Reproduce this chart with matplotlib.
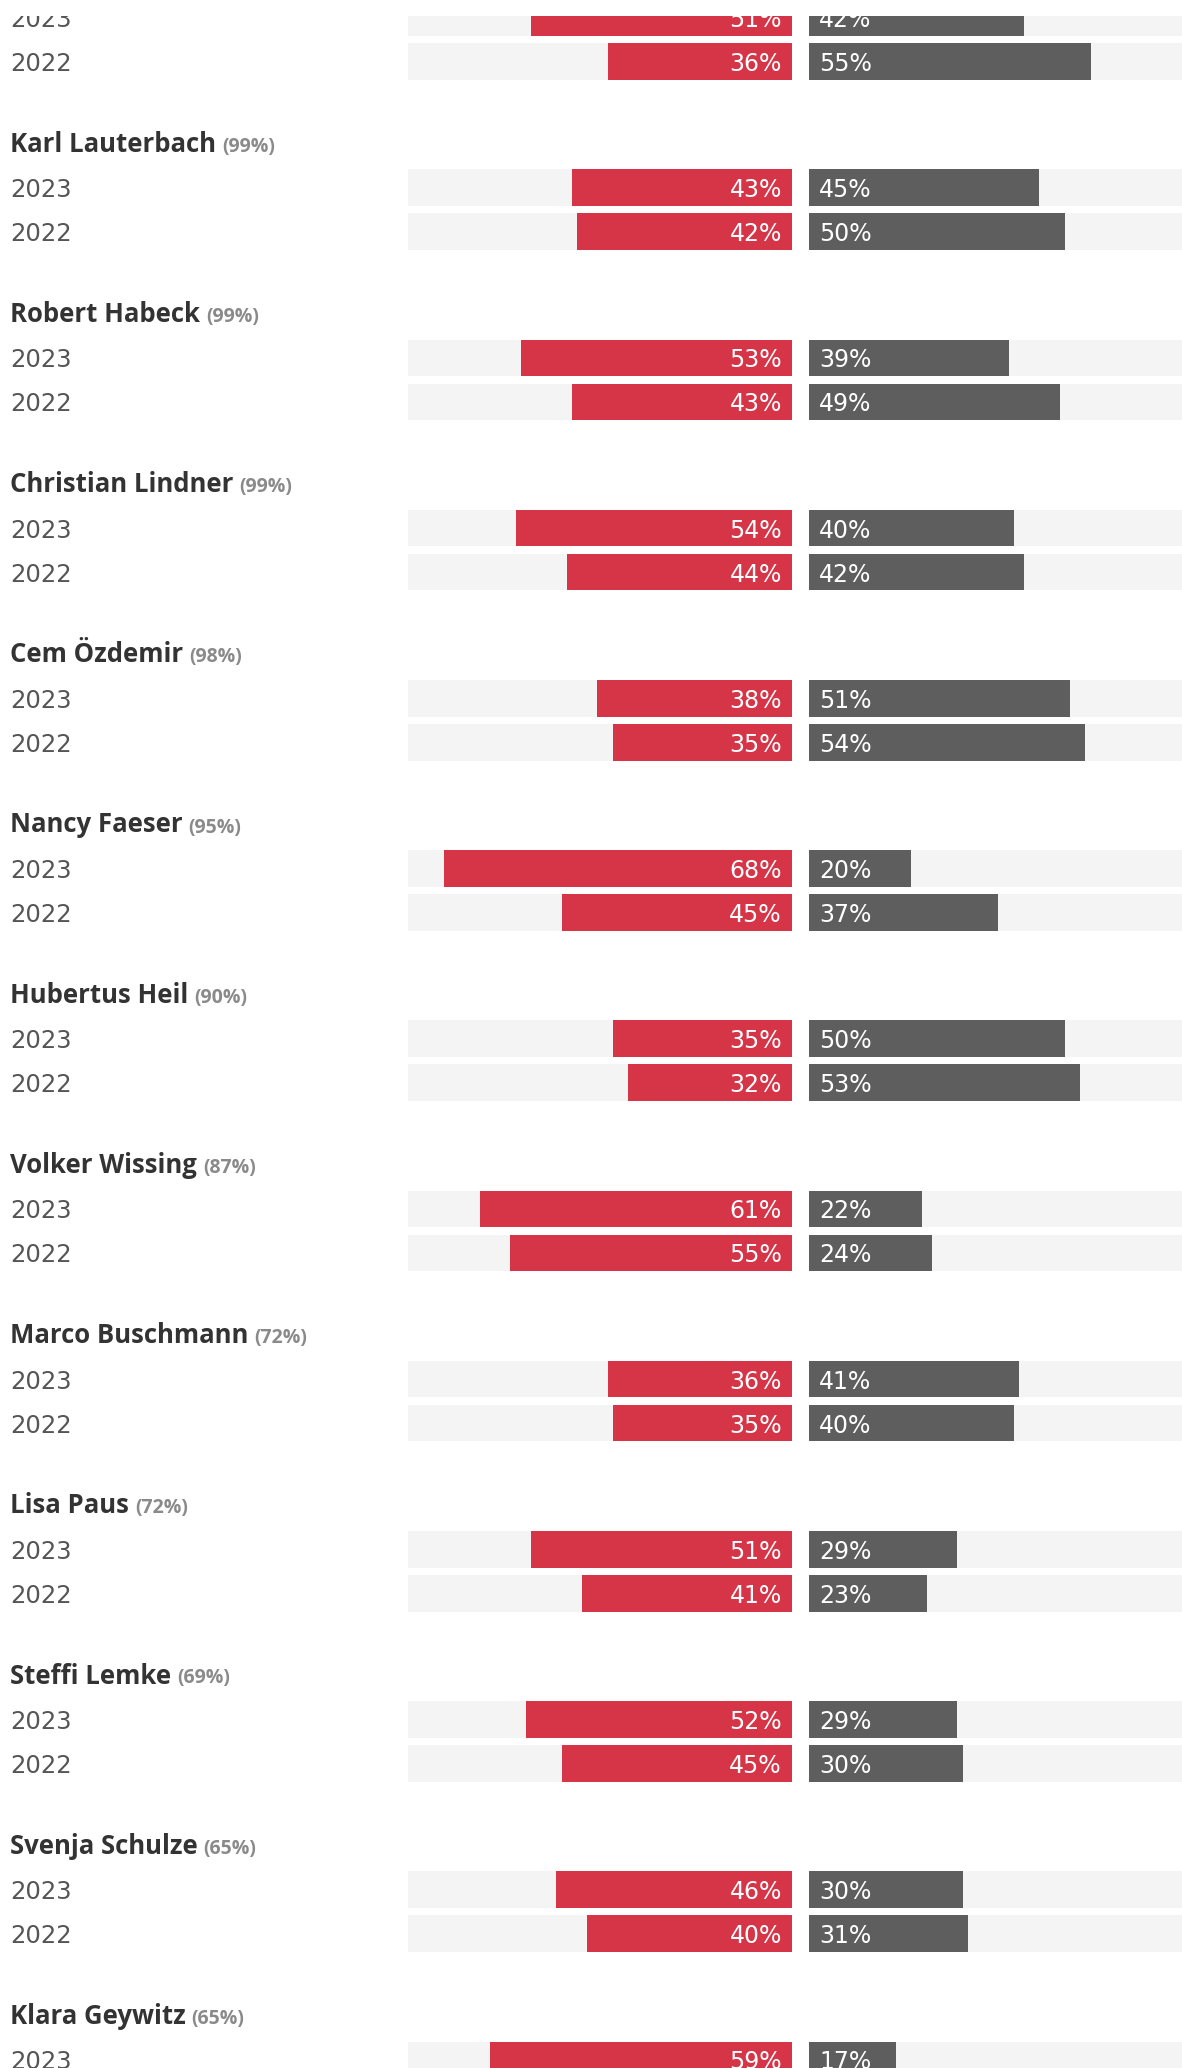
import matplotlib.pyplot as plt

# Daten: Bewertung der Minister (rot = schlecht, grau = gut), Bekanntheit in Klammern
namen = ["", "Karl Lauterbach", "Robert Habeck", "Christian Lindner", "Cem Özdemir",
         "Nancy Faeser", "Hubertus Heil", "Volker Wissing", "Marco Buschmann",
         "Lisa Paus", "Steffi Lemke", "Svenja Schulze", "Klara Geywitz"]
bekanntheit = [None, 99, 99, 99, 98, 95, 90, 87, 72, 72, 69, 65, 65]
jahre = ["2023", "2022"]
schlecht_2023 = [51, 43, 53, 54, 38, 68, 35, 61, 36, 51, 52, 46, 59]
gut_2023 = [42, 45, 39, 40, 51, 20, 50, 22, 41, 29, 29, 30, 17]
schlecht_2022 = [36, 42, 43, 44, 35, 45, 32, 55, 35, 41, 45, 40, None]
gut_2022 = [55, 50, 49, 42, 54, 37, 53, 24, 40, 23, 30, 31, None]

ROT = '#d63447'
GRAU = '#5e5e5e'
HG = '#f4f4f4'
FONT = 'DejaVu Sans'
FONT_FETT = 'Open Sans'

W, H = 1182, 2068
PX = 5.12           # Pixel pro Prozentpunkt
NULL_PX = 792       # Ende der roten Balken
LUECKE = 17 / PX    # Abstand zwischen rot und grau
GRUPPE = 170.2
ZEILE = [17.5, 61.5]
KOPF = -18.5
BALKEN_H = 36.7
MAX_HG = 75
OBEN = 16

fig = plt.figure(figsize=(W / 100, H / 100), dpi=100)
ax = fig.add_axes([0, 0, 1, (H - OBEN) / H])
ax.set_xlim(-NULL_PX / PX, (W - NULL_PX) / PX)
ax.set_ylim(H, OBEN)
ax.axis('off')
trans = ax.get_yaxis_transform()
x_links = 10 / W

werte = [(schlecht_2023, gut_2023), (schlecht_2022, gut_2022)]
koepfe = []
for i, name in enumerate(namen):
    basis = i * GRUPPE
    for r, jahr in enumerate(jahre):
        schlecht, gut = werte[r][0][i], werte[r][1][i]
        if schlecht is None:
            continue
        y = basis + ZEILE[r]
        ax.barh(y, -MAX_HG, height=BALKEN_H, color=HG)
        ax.barh(y, MAX_HG, left=LUECKE, height=BALKEN_H, color=HG)
        ax.barh(y, -schlecht, height=BALKEN_H, color=ROT)
        ax.barh(y, gut, left=LUECKE, height=BALKEN_H, color=GRAU)
        ax.text(-10 / PX, y, f"{schlecht}%", ha='right', va='center_baseline',
                color='white', fontsize=17, family=FONT, clip_on=True)
        ax.text(LUECKE + 10 / PX, y, f"{gut}%", ha='left', va='center_baseline',
                color='white', fontsize=17, family=FONT, clip_on=True)
        ax.text(x_links, y, jahr, transform=trans, ha='left', va='center_baseline',
                color='#555555', fontsize=17.5, family=FONT, clip_on=True)
    if name:
        t = ax.text(x_links, basis + KOPF, name, transform=trans, ha='left',
                    va='baseline', color='#333333', fontsize=18.5, fontweight='bold',
                    family=FONT_FETT, clip_on=True)
        koepfe.append((t, bekanntheit[i]))

fig.canvas.draw()
r = fig.canvas.get_renderer()
for t, b in koepfe:
    bb = t.get_window_extent(r)
    x_ax = (bb.x1 + 6) / fig.bbox.width
    ax.text(x_ax, t.get_position()[1], f"({b}%)", transform=trans, ha='left',
            va='baseline', color='#8a8a8a', fontsize=14, fontweight='bold',
            family=FONT_FETT, clip_on=True)

fig.savefig('out.png', dpi=100)
